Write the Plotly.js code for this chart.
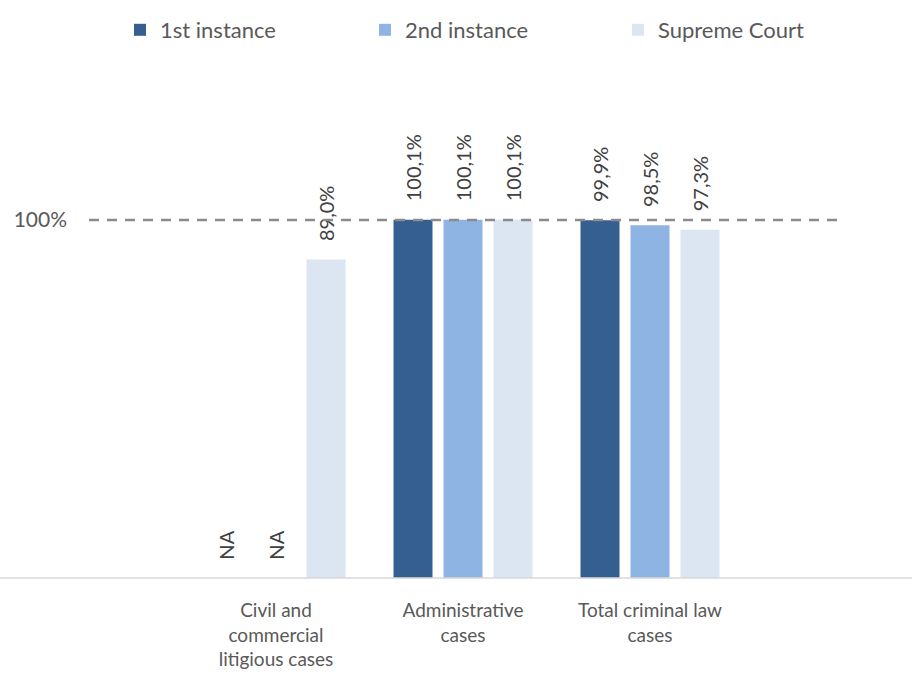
<!DOCTYPE html>
<html>
<head>
<meta charset="utf-8">
<script src="https://cdn.plot.ly/plotly-3.0.1.min.js"></script>
<style>
  html, body { margin: 0; padding: 0; background: #ffffff; }
  #chart { width: 912px; height: 681px; }
</style>
</head>
<body>
<div id="chart"></div>
<script>
// ---- data ----
var categories = ['Civil and<br>commercial<br>litigious cases', 'Administrative<br>cases', 'Total criminal law<br>cases'];
var seriesNames = ['1st instance', '2nd instance', 'Supreme Court'];
var firstInstance = [null, 100.1, 99.9];
var secondInstance = [null, 100.1, 98.5];
var supremeCourt = [89.0, 100.1, 97.3];
var yTickVals = [100];
var yTickText = ['100%'];
var referenceLevel = 100;

// ---- styling ----
var colors = ['#365F91', '#8EB4E3', '#DCE6F2'];
var FONT = 'Lato, "Open Sans", sans-serif';
var TEXT_COLOR = '#404040';
var PAD = '\u00a0\u00a0\u00a0';
var legendIds = ['legend', 'legend2', 'legend3'];
var legendPx = [120, 365, 618];

function fmt(v) {
  if (v === null) return PAD + 'NA';
  return PAD + v.toFixed(1).replace('.', ',') + '%';
}

var series = [firstInstance, secondInstance, supremeCourt];
var traces = series.map(function (vals, i) {
  return {
    type: 'bar',
    name: seriesNames[i],
    legend: legendIds[i],
    x: categories,
    // NA values drawn as zero-height bars so their "NA" label sits on the baseline
    y: vals.map(function (v) { return v === null ? 0 : v; }),
    text: vals.map(fmt),
    textposition: 'outside',
    textangle: -90,
    constraintext: 'none',
    cliponaxis: false,
    textfont: { family: FONT, size: 20, color: TEXT_COLOR },
    marker: { color: colors[i], line: { width: 0 } },
    hoverinfo: 'skip'
  };
});

var L = 68, T = 100, B = 103, W = 912, H = 681;
var plotW = W - L;

var layout = {
  width: W,
  height: H,
  margin: { l: L, r: 0, t: T, b: B, pad: 0 },
  paper_bgcolor: '#ffffff',
  plot_bgcolor: '#ffffff',
  font: { family: FONT, color: '#595959', size: 20 },
  barmode: 'group',
  bargap: 0.198,
  bargroupgap: 0.22,
  showlegend: true,
  xaxis: {
    type: 'category',
    range: [(L - 276) / 187, (W - 276) / 187],
    showgrid: false,
    zeroline: false,
    showline: false,
    ticks: '',
    ticklabelstandoff: 19,
    tickfont: { family: FONT, size: 19, color: '#595959' },
    fixedrange: true
  },
  yaxis: {
    range: [0, (H - B - T) / 3.58],
    showgrid: false,
    zeroline: false,
    showline: false,
    ticks: '',
    tickmode: 'array',
    tickvals: yTickVals,
    ticktext: yTickText,
    tickfont: { family: FONT, size: 21, color: '#595959' },
    fixedrange: true
  },
  shapes: [
    {
      type: 'line', xref: 'paper', yref: 'paper',
      x0: -L / plotW, x1: 1, y0: 0, y1: 0,
      line: { color: '#D9D9D9', width: 1.5 },
      layer: 'above'
    },
    {
      type: 'line', xref: 'x', yref: 'y',
      x0: -1, x1: 3, y0: referenceLevel, y1: referenceLevel,
      line: { color: '#8C8C8C', width: 2.5, dash: '10px,8px' },
      layer: 'above'
    }
  ]
};

legendIds.forEach(function (id, i) {
  layout[id] = {
    orientation: 'h',
    x: (legendPx[i] - L) / plotW,
    xanchor: 'left',
    y: 1 + 70 / (H - T - B),
    yanchor: 'middle',
    itemwidth: 30,
    font: { family: FONT, size: 22, color: '#595959' },
    bgcolor: 'rgba(0,0,0,0)'
  };
});

Plotly.newPlot('chart', traces, layout, { displayModeBar: false, staticPlot: true });
</script>
</body>
</html>
